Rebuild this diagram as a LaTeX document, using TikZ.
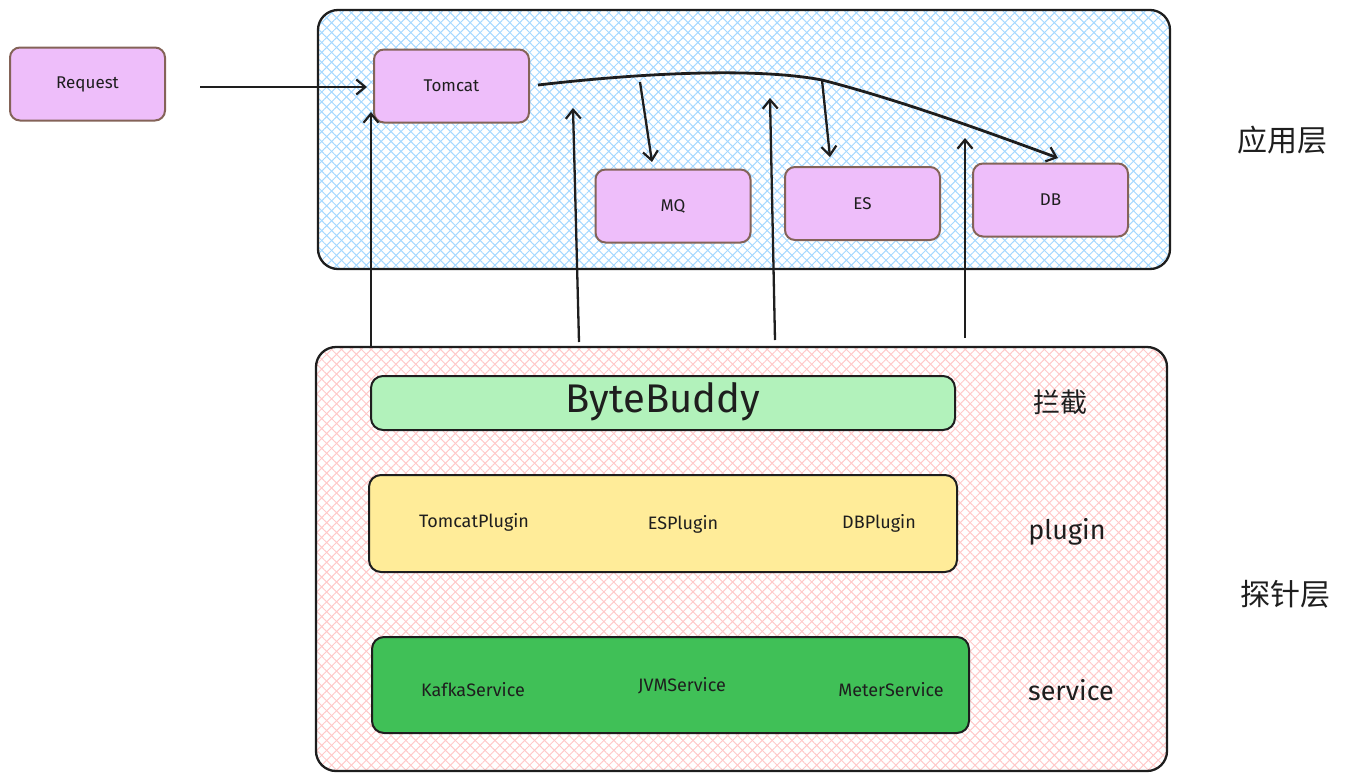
\documentclass[tikz,border=0pt]{standalone}
\usepackage{fontspec}
\setmainfont{Fira Sans}
\newfontfamily\cjk{Noto Sans CJK SC}
\usetikzlibrary{arrows.meta,patterns.meta}
\definecolor{purp}{HTML}{EEBEFA}
\definecolor{boxbrown}{HTML}{846358}
\definecolor{hatchblue}{HTML}{A5D8FF}
\definecolor{hatchpink}{HTML}{FFC9C9}
\definecolor{lgreen}{HTML}{B2F2BB}
\definecolor{lyellow}{HTML}{FFEC99}
\definecolor{dgreen}{HTML}{40C057}
\definecolor{ink}{HTML}{1E1E1E}
\tikzset{
  appbox/.style={draw=boxbrown, line width=2pt, fill=purp, rounded corners=10pt,
    minimum width=155pt, minimum height=73pt, inner sep=0pt, font=\fontsize{17}{19}\selectfont, text=ink},
  layer/.style={draw=ink, line width=2.3pt, rounded corners=20pt, inner sep=0pt,
    preaction={pattern={Lines[angle=45,distance=7pt,line width=1pt]}, pattern color=#1},
    preaction={pattern={Lines[angle=-45,distance=7pt,line width=1pt]}, pattern color=#1}},
  band/.style={draw=ink, line width=2pt, rounded corners=12pt, fill=#1, inner sep=0pt},
  lbl/.style={font=\fontsize{18}{21}\selectfont, text=ink},
  side/.style={font=\fontsize{27}{31}\selectfont, text=ink},
  flow/.style={draw=ink, line width=2.3pt, -{Straight Barb[length=9pt,width=15pt,line width=2.2pt]}},
}
\begin{document}
\begin{tikzpicture}[x=1pt,y=-1pt]
\useasboundingbox (0,0) rectangle (1350,780);
% layers
\node[layer=hatchblue, minimum width=852pt, minimum height=259pt] (app) at (744,139.5) {};
\node[layer=hatchpink, minimum width=851pt, minimum height=424pt] (probe) at (741.5,559) {};
% app nodes
\node[appbox] (req) at (87.5,84) {Request};
\node[appbox] (tomcat) at (451.5,86) {Tomcat};
\node[appbox] (mq) at (673,206) {MQ};
\node[appbox] (es) at (862.5,203.5) {ES};
\node[appbox] (db) at (1050.5,200) {DB};
% probe bands
\node[band=lgreen, minimum width=584pt, minimum height=54pt] (bb) at (663,403) {};
\node[font=\fontsize{40}{44}\selectfont, text=ink] (bbt) at (663,402) {ByteBuddy};
\node[band=lyellow, minimum width=588pt, minimum height=97pt] (plug) at (663,523.5) {};
\node[band=dgreen, minimum width=597pt, minimum height=96pt] (svc) at (670.5,685) {};
\node[lbl] (p1) at (474,522) {TomcatPlugin};
\node[lbl] (p2) at (683,524) {ESPlugin};
\node[lbl] (p3) at (879,523) {DBPlugin};
\node[lbl] (s1) at (473,690) {KafkaService};
\node[lbl] (s2) at (682,686) {JVMService};
\node[lbl] (s3) at (891,690) {MeterService};
% side labels
\node[side] (l1) at (1060,402) {\cjk 拦截};
\node[side] (l2) at (1067,532) {plugin};
\node[side] (l3) at (1071,690) {service};
\node[font=\fontsize{30}{34}\selectfont, text=ink] (l4) at (1282,140) {\cjk 应用层};
\node[font=\fontsize{30}{34}\selectfont, text=ink] (l5) at (1285,594) {\cjk 探针层};
% coordinates
\coordinate (reqout) at (200,87);
\coordinate (tin) at (367,87);
\coordinate (b1) at (371,347);
\coordinate (t1) at (371,112);
\coordinate (b2) at (579,342);
\coordinate (t2) at (573,108);
\coordinate (b3) at (775,340);
\coordinate (t3) at (770,98);
\coordinate (b4) at (965,338);
\coordinate (t4) at (965,138);
\coordinate (c0) at (538,85);
\coordinate (cm) at (822,80);
\coordinate (cd) at (1058,158);
\coordinate (m0) at (640,82);
\coordinate (m1) at (652,162);
\coordinate (e1) at (830,157);
% connectors
\draw[flow] (reqout) -- (tin);
\draw[flow] (b1) -- (t1);
\draw[flow] (b2) -- (t2);
\draw[flow] (b3) -- (t3);
\draw[flow] (b4) -- (t4);
\draw[flow, line width=2.8pt] (c0) .. controls (650,72) and (760,68) .. (cm) .. controls (900,100) and (990,133) .. (cd);
\draw[flow] (m0) -- (m1);
\draw[flow] (cm) -- (e1);
\end{tikzpicture}
\end{document}
